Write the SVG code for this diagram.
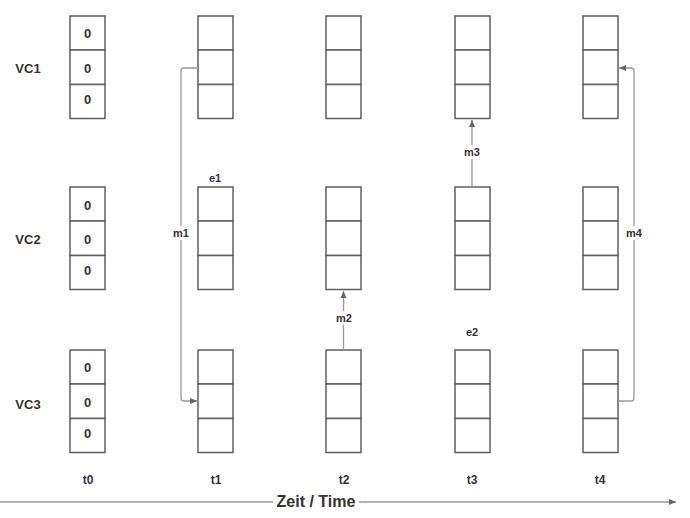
<svg xmlns="http://www.w3.org/2000/svg" width="690" height="518" viewBox="0 0 690 518">
<defs>
<style>
.cell{fill:#fff;stroke:#5f5f5f;stroke-width:1.5}
.t{font-family:"Liberation Sans",Arial,sans-serif;fill:#333;text-anchor:middle}
.b{font-weight:bold;font-size:13px}
.s{font-weight:bold;font-size:11px}
.c{fill:none;stroke:#999;stroke-width:1.3}
</style>
<marker id="ah" markerWidth="8" markerHeight="8" refX="7" refY="4" orient="auto" markerUnits="userSpaceOnUse">
<path d="M0,1 L7,4 L0,7 Z" fill="#666"/>
</marker>
<g id="stack">
<rect class="cell" x="0" y="0" width="35" height="34"/>
<rect class="cell" x="0" y="34" width="35" height="34.5"/>
<rect class="cell" x="0" y="68.5" width="35" height="34"/>
</g>
</defs>
<rect width="690" height="518" fill="#fff"/>
<g id="labels">
<text class="t b" x="28" y="73">VC1</text>
<text class="t b" x="28" y="244">VC2</text>
<text class="t b" x="28" y="409">VC3</text>
<text class="t s" x="215" y="182">e1</text>
<text class="t s" x="472" y="336">e2</text>
<text class="t b" x="88" y="484" style="font-size:12px">t0</text>
<text class="t b" x="216" y="484" style="font-size:12px">t1</text>
<text class="t b" x="344" y="484" style="font-size:12px">t2</text>
<text class="t b" x="472" y="484" style="font-size:12px">t3</text>
<text class="t b" x="600" y="484" style="font-size:12px">t4</text>
</g>
<g id="t0">
<g id="t0-vc1"><use href="#stack" x="70" y="16"/>
<text class="t b" x="87.5" y="38">0</text><text class="t b" x="87.5" y="73">0</text><text class="t b" x="87.5" y="104">0</text></g>
<g id="t0-vc2"><use href="#stack" x="70" y="187"/>
<text class="t b" x="87.5" y="210">0</text><text class="t b" x="87.5" y="244">0</text><text class="t b" x="87.5" y="275">0</text></g>
<g id="t0-vc3"><use href="#stack" x="70" y="350"/>
<text class="t b" x="87.5" y="372">0</text><text class="t b" x="87.5" y="407">0</text><text class="t b" x="87.5" y="438">0</text></g>
</g>
<g id="t1"><use id="t1-vc1" href="#stack" x="198" y="16"/><use id="t1-vc2" href="#stack" x="198" y="187"/><use id="t1-vc3" href="#stack" x="198" y="350"/></g>
<g id="t2"><use id="t2-vc1" href="#stack" x="326" y="16"/><use id="t2-vc2" href="#stack" x="326" y="187"/><use id="t2-vc3" href="#stack" x="326" y="350"/></g>
<g id="t3"><use id="t3-vc1" href="#stack" x="455" y="16"/><use id="t3-vc2" href="#stack" x="455" y="187"/><use id="t3-vc3" href="#stack" x="455" y="350"/></g>
<g id="t4"><use id="t4-vc1" href="#stack" x="583" y="16"/><use id="t4-vc2" href="#stack" x="583" y="187"/><use id="t4-vc3" href="#stack" x="583" y="350"/></g>
<g id="connectors">
<path class="c" d="M198,68 H184 Q181,68 181,71 V398 Q181,401 184,401 H197" marker-end="url(#ah)"/>
<path class="c" d="M343.5,350 V291" marker-end="url(#ah)"/>
<path class="c" d="M472,187 V120" marker-end="url(#ah)"/>
<path class="c" d="M618,401 H631 Q634,401 634,398 V71 Q634,68 631,68 H619" marker-end="url(#ah)"/>
<path class="c" d="M0,502 H676" marker-end="url(#ah)"/>
<rect x="170" y="226" width="22" height="14" fill="#fff"/>
<text class="t s" x="181" y="237">m1</text>
<rect x="332" y="311" width="24" height="14" fill="#fff"/>
<text class="t s" x="344" y="322">m2</text>
<rect x="460" y="145" width="24" height="14" fill="#fff"/>
<text class="t s" x="472" y="156">m3</text>
<rect x="623" y="226" width="24" height="14" fill="#fff"/>
<text class="t s" x="634" y="237">m4</text>
<rect x="273" y="491" width="86" height="20" fill="#fff"/>
<text class="t" x="316" y="507" style="font-size:16px;font-weight:bold">Zeit / Time</text>
</g>
</svg>
